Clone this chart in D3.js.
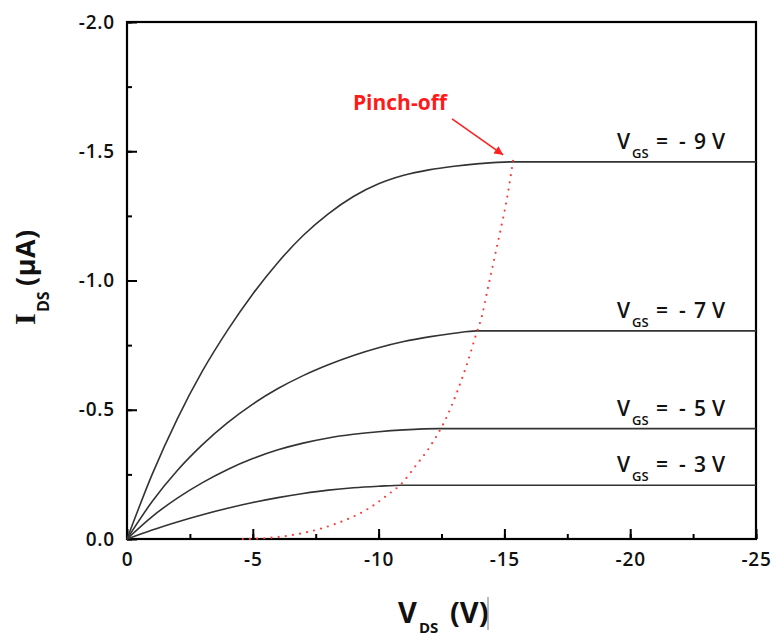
<!DOCTYPE html>
<html>
<head>
<meta charset="utf-8">
<script src="https://cdn.jsdelivr.net/npm/d3@7/dist/d3.min.js"></script>
<style>
  html, body { margin: 0; padding: 0; background: #fff; }
  svg { display: block; }
  text { font-family: "Open Sans", "Noto Sans", sans-serif; }
</style>
</head>
<body>
<svg id="chart" width="780" height="637"></svg>
<script>
// ---- data ----
const xTicks = [0, -5, -10, -15, -20, -25];
const yTicks = [0, -0.5, -1.0, -1.5, -2.0];

const vds9 = [0, -1, -2, -3, -4, -5, -6, -7, -8, -9, -10, -11, -12, -13, -14, -15.3, -25];
const ids9 = [0, -0.25, -0.465, -0.65, -0.808, -0.948, -1.07, -1.174, -1.258, -1.325, -1.374, -1.407, -1.428, -1.442, -1.452, -1.459, -1.459];

const vds7 = [0, -1, -2, -3, -4, -5, -6, -7, -8, -9, -10, -11, -12, -13, -13.9, -25];
const ids7 = [0, -0.145, -0.265, -0.365, -0.45, -0.522, -0.582, -0.632, -0.674, -0.71, -0.74, -0.764, -0.782, -0.796, -0.805, -0.805];

const vds5 = [0, -1, -2, -3, -4, -5, -6, -7, -8, -9, -10, -11, -12.36, -25];
const ids5 = [0, -0.087, -0.158, -0.218, -0.269, -0.311, -0.345, -0.371, -0.391, -0.405, -0.415, -0.422, -0.427, -0.427];

const vds3 = [0, -1, -2, -3, -4, -5, -6, -7, -8, -9, -10, -10.9, -25];
const ids3 = [0, -0.035, -0.066, -0.094, -0.119, -0.141, -0.16, -0.176, -0.189, -0.198, -0.204, -0.208, -0.208];

const vdsPinch = [-4.6, -5.1, -5.95, -7.14, -8.33, -9.39, -9.72, -10.32, -10.92, -11.45, -12.04, -12.71, -13.1, -13.5, -13.87, -14.1, -14.3, -14.56, -14.82, -15.09, -15.36];
const idsPinch = [0, -0.001, -0.007, -0.026, -0.06, -0.106, -0.125, -0.168, -0.215, -0.28, -0.357, -0.473, -0.564, -0.673, -0.79, -0.86, -0.95, -1.067, -1.183, -1.311, -1.473];

const curveGate = ["9", "7", "5", "3"];
const labelIds = [-1.458, -0.806, -0.427, -0.209];

const pinchText = "Pinch-off";
const pinchTextPos = [-8.98, -1.66];
const arrowFrom = [-12.92, -1.625];
const arrowTo = [-14.95, -1.486];

// ---- layout ----
const svg = d3.select("#chart");
const mLeft = 127, mRight = 756, mTop = 22, mBottom = 539;

const x = d3.scaleLinear().domain([0, -25]).range([mLeft, mRight]);
const y = d3.scaleLinear().domain([0, -2]).range([mBottom, mTop]);

svg.append("rect").attr("width", 780).attr("height", 637).attr("fill", "#fff");

// minor ticks
const xMinor = d3.range(0, 11).map(i => -2.5 * i);
const yMinor = d3.range(0, 9).map(i => -0.25 * i);

svg.append("g").attr("transform", `translate(0,${mBottom})`)
  .call(d3.axisBottom(x).tickValues(xMinor).tickSize(-5).tickFormat(""))
  .call(g => g.select(".domain").remove())
  .call(g => g.selectAll("line").attr("stroke", "#000").attr("stroke-width", 2));
svg.append("g").attr("transform", `translate(${mLeft},0)`)
  .call(d3.axisLeft(y).tickValues(yMinor).tickSize(-5).tickFormat(""))
  .call(g => g.select(".domain").remove())
  .call(g => g.selectAll("line").attr("stroke", "#000").attr("stroke-width", 2));

// major ticks
svg.append("g").attr("transform", `translate(0,${mBottom})`)
  .call(d3.axisBottom(x).tickValues(xTicks).tickSize(-10).tickPadding(14)
        .tickFormat(d => String(d)))
  .call(g => g.select(".domain").remove())
  .call(g => g.selectAll("line").attr("stroke", "#000").attr("stroke-width", 2))
  .call(g => g.selectAll("text").attr("fill", "#111")
        .style("font-size", "19px").style("font-weight", 600).style("letter-spacing", "0.8px"));
svg.append("g").attr("transform", `translate(${mLeft},0)`)
  .call(d3.axisLeft(y).tickValues(yTicks).tickSize(-10).tickPadding(12)
        .tickFormat(d => d.toFixed(1)))
  .call(g => g.select(".domain").remove())
  .call(g => g.selectAll("line").attr("stroke", "#000").attr("stroke-width", 2))
  .call(g => g.selectAll("text").attr("fill", "#111")
        .style("font-size", "19px").style("font-weight", 600).style("letter-spacing", "0.8px"));

// frame
svg.append("rect")
  .attr("x", mLeft).attr("y", mTop)
  .attr("width", mRight - mLeft).attr("height", mBottom - mTop)
  .attr("fill", "none").attr("stroke", "#000").attr("stroke-width", 2.2);

// curves
const line = d3.line().x(d => x(d[0])).y(d => y(d[1])).curve(d3.curveMonotoneX);
const series = [[vds9, ids9], [vds7, ids7], [vds5, ids5], [vds3, ids3]];
series.forEach(([v, i]) => {
  svg.append("path")
    .datum(v.map((vv, k) => [vv, i[k]]))
    .attr("d", line)
    .attr("fill", "none")
    .attr("stroke", "#333")
    .attr("stroke-width", 1.6);
});

// pinch-off dotted line
svg.append("path")
  .datum(vdsPinch.map((vv, k) => [vv, idsPinch[k]]))
  .attr("d", line)
  .attr("fill", "none")
  .attr("stroke", "#ff3b3b")
  .attr("stroke-width", 2.2)
  .attr("stroke-linecap", "round")
  .attr("stroke-dasharray", "0 7.2");

// curve labels
curveGate.forEach((g, k) => {
  const by = y(labelIds[k]) - 13;
  const t = svg.append("text")
    .attr("y", by)
    .attr("fill", "#111")
    .style("font-size", "21px").style("font-weight", 600);
  t.append("tspan").attr("x", 617).text("V");
  t.append("tspan").attr("x", 632).attr("y", by + 9).style("font-size", "13px").text("GS");
  t.append("tspan").attr("x", 656).attr("y", by).text("=");
  t.append("tspan").attr("x", 679).text("-");
  t.append("tspan").attr("x", 694).text(g);
  t.append("tspan").attr("x", 712).text("V");
});

// pinch-off annotation
svg.append("defs").append("marker")
  .attr("id", "arrow").attr("viewBox", "0 0 10 10")
  .attr("refX", 10).attr("refY", 5)
  .attr("markerWidth", 7.5).attr("markerHeight", 5.5)
  .attr("orient", "auto")
  .append("path").attr("d", "M0,0 L10,5 L0,10 z").attr("fill", "#ff2020");

svg.append("line")
  .attr("x1", x(arrowFrom[0])).attr("y1", y(arrowFrom[1]))
  .attr("x2", x(arrowTo[0])).attr("y2", y(arrowTo[1]))
  .attr("stroke", "#ff2020").attr("stroke-width", 1.6)
  .attr("marker-end", "url(#arrow)");

svg.append("text")
  .attr("x", x(pinchTextPos[0])).attr("y", y(pinchTextPos[1]))
  .attr("fill", "#ff1a1a")
  .style("font-size", "21px").style("font-weight", 700)
  .text(pinchText);

// axis titles
const xt = svg.append("text").attr("y", 623).attr("fill", "#111")
  .style("font-size", "29px").style("font-weight", 700);
xt.append("tspan").attr("x", 398).style("letter-spacing", "2px").text("V");
xt.append("tspan").attr("x", 419).attr("y", 633).style("font-size", "15px").text("DS");
xt.append("tspan").attr("x", 450).attr("y", 623).text("(V)");

svg.append("line").attr("x1", 488).attr("x2", 488).attr("y1", 597).attr("y2", 630)
  .attr("stroke", "#777").attr("stroke-width", 1);

const yt = svg.append("text")
  .attr("transform", "translate(35,325) rotate(-90)")
  .attr("fill", "#111")
  .style("font-size", "27px").style("font-weight", 700);
yt.append("tspan").attr("x", 0).style("font-family", "'Liberation Serif', serif").style("font-size", "30px").text("I");
yt.append("tspan").attr("x", 13).attr("y", 14).style("font-size", "16px").text("DS");
yt.append("tspan").attr("x", 39).attr("y", 0).style("letter-spacing", "0.5px").text("(μA)");
</script>
</body>
</html>
